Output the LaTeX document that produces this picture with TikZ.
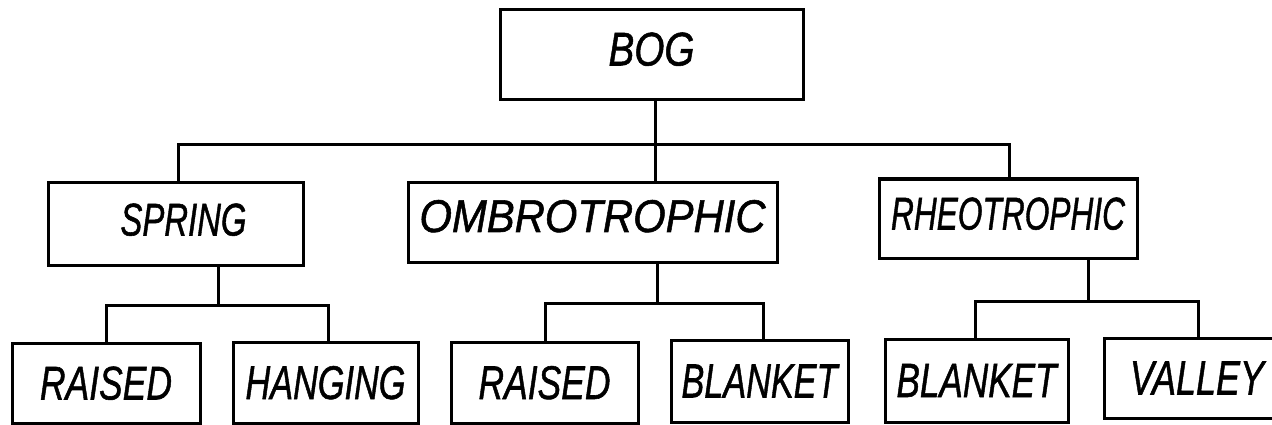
\documentclass[tikz,border=0pt]{standalone}
\usepackage{fontspec}
\setmainfont{Liberation Sans}[ItalicFeatures={FakeBold=1.2}]
\usepackage{graphicx}
\newcommand{\lbl}[4]{\raisebox{#1}[#3][0pt]{\resizebox{#2}{#3}{\itshape #4}}}
\begin{document}
\begin{tikzpicture}[x=1pt,y=-1pt,
  box/.style={draw,line width=3pt,inner sep=0pt,minimum width=#1},
  conn/.style={line width=3pt,line cap=rect}]
\clip (0,0) rectangle (1272,425);
% level 1
\node[box=303pt,minimum height=90pt] (bog) at (651.5,55) {\lbl{6pt}{86pt}{33pt}{BOG}};
% level 2
\node[box=255pt,minimum height=83pt] (spring) at (175.5,223.5) {\hspace*{16pt}\lbl{4pt}{126pt}{32pt}{SPRING}};
\node[box=369pt,minimum height=80pt] (ombro) at (592.5,222) {\lbl{6pt}{346pt}{32pt}{OMBROTROPHIC}};
\node[box=258pt,minimum height=79pt] (rheo) at (1008,218.5) {\lbl{5pt}{234pt}{32pt}{RHEOTROPHIC}};
% level 3
\node[box=188pt,minimum height=80pt] (raisedA) at (106,383) {\lbl{0pt}{132pt}{33pt}{RAISED}};
\node[box=185pt,minimum height=81pt] (hanging) at (325.5,382.5) {\lbl{0pt}{160pt}{33pt}{HANGING}};
\node[box=187pt,minimum height=81pt] (raisedB) at (544.5,382.5) {\lbl{0pt}{132pt}{33pt}{RAISED}};
\node[box=177pt,minimum height=82pt] (blanketA) at (759.5,381) {\lbl{0pt}{156pt}{33pt}{BLANKET}};
\node[box=183pt,minimum height=83pt] (blanketB) at (976.5,380.5) {\lbl{0pt}{160pt}{33pt}{BLANKET}};
\node[box=186pt,minimum height=80pt] (valley) at (1197,378) {\lbl{0pt}{134pt}{33pt}{VALLEY}};
% junction coordinates
\coordinate (j0) at (655,145);
\coordinate (j0L) at (178,145);
\coordinate (j0R) at (1009,145);
\coordinate (j1) at (218,305);
\coordinate (j1L) at (106,305);
\coordinate (j1R) at (328,305);
\coordinate (j2) at (657,303);
\coordinate (j2L) at (545,303);
\coordinate (j2R) at (763,303);
\coordinate (j3) at (1088,301);
\coordinate (j3L) at (975,301);
\coordinate (j3R) at (1198,301);
% connectors
\draw[conn] (bog.south -| j0) -- (j0);
\draw[conn] (spring.north -| j0L) -- (j0L) -- (j0R) -- (rheo.north -| j0R);
\draw[conn] (j0) -- (ombro.north -| j0);
\draw[conn] (spring.south -| j1) -- (j1);
\draw[conn] (raisedA.north -| j1L) -- (j1L) -- (j1R) -- (hanging.north -| j1R);
\draw[conn] (ombro.south -| j2) -- (j2);
\draw[conn] (raisedB.north -| j2L) -- (j2L) -- (j2R) -- (blanketA.north -| j2R);
\draw[conn] (rheo.south -| j3) -- (j3);
\draw[conn] (blanketB.north -| j3L) -- (j3L) -- (j3R) -- (valley.north -| j3R);
\end{tikzpicture}
\end{document}
